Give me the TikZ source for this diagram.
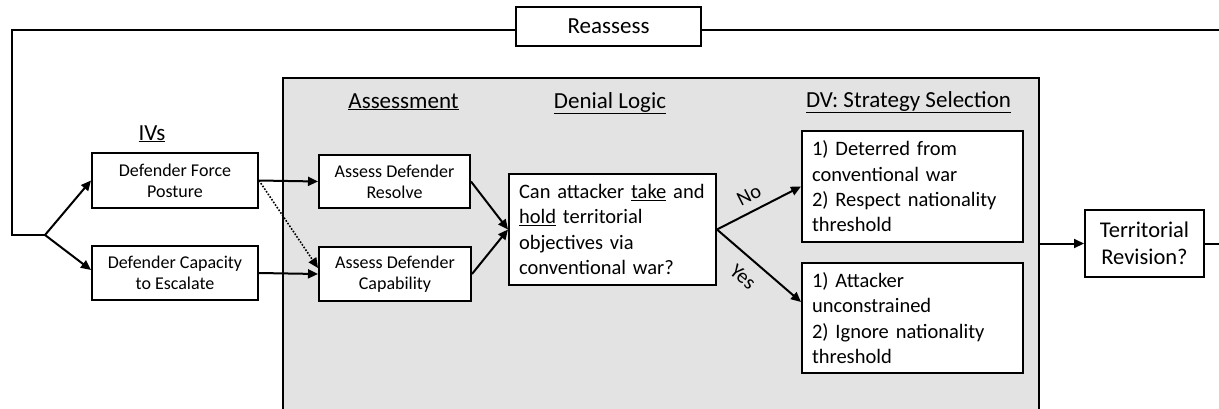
\documentclass[tikz,border=0pt]{standalone}
\usepackage{fontspec}
\setmainfont{Carlito}
\usetikzlibrary{arrows.meta}
\definecolor{panelgray}{HTML}{E3E3E3}
\begin{document}
\begin{tikzpicture}[x=1pt,y=-1pt,
  box/.style={draw=black, line width=2pt, fill=white, inner sep=0pt, align=center,
    font=\fontsize{18}{21}\selectfont},
  bigbox/.style={draw=black, line width=2pt, fill=white, inner xsep=10pt, inner ysep=0pt, align=left,
    font=\fontsize{20.5}{25.3}\selectfont},
  header/.style={inner sep=0pt, anchor=base, font=\fontsize{23}{27}\selectfont},
  lbl/.style={inner sep=0pt, font=\fontsize{20.5}{24}\selectfont},
  conn/.style={line width=2pt, -{Triangle[length=10pt,width=9pt]}},
  plain/.style={line width=2pt},
  dotconn/.style={line width=1.6pt, dash pattern=on 1.6pt off 1.6pt, -{Triangle[length=10pt,width=9pt]}}]
\clip (0,0) rectangle (1219,408);
\fill[white] (0,0) rectangle (1219,408);

% gray panel
\node[fill=panelgray, draw=black, line width=2pt, minimum width=756pt, minimum height=345pt, inner sep=0pt] (panel) at (661,250.5) {};

% coordinates of the loop
\coordinate (tl) at (12,30);
\coordinate (bl) at (12,235);
\coordinate (split) at (45,235);
\coordinate (redge) at (1225,30);
\coordinate (redge2) at (1225,243.5);

% headers
\node[header] (ivs) at (152,140) {\underline{IVs}};
\node[header] (hass) at (403.5,108) {\underline{Assessment}};
\node[header] (hden) at (610,108) {\underline{Denial Logic}};
\node[header] (hdv) at (908.5,107) {\underline{DV: Strategy Selection}};

% boxes
\node[box, minimum width=185pt, minimum height=39pt, font=\fontsize{23}{27}\selectfont] (reassess) at (608.5,26.5) {Reassess};
\node[box, minimum width=166pt, minimum height=55pt] (post) at (175,180.5) {Defender Force\\Posture};
\node[box, minimum width=166pt, minimum height=54pt] (cap) at (175,273) {Defender Capacity\\to Escalate};
\node[box, minimum width=151pt, minimum height=53pt] (res) at (394.5,181.5) {Assess Defender\\Resolve};
\node[box, minimum width=152pt, minimum height=54pt] (capab) at (395,274) {Assess Defender\\Capability};
\node[bigbox, text width=187pt, minimum height=111pt] (q) at (612.5,229.5)
  {Can attacker \underline{take} and\\\underline{hold} territorial\\objectives via\\conventional war?};
\node[bigbox, text width=201pt, minimum height=111pt] (no) at (912.5,186.5)
  {1) Deterred from\\conventional war\\2) Respect nationality\\threshold};
\node[bigbox, text width=201pt, minimum height=110pt] (yes) at (912.5,318)
  {1) Attacker\\unconstrained\\2) Ignore nationality\\threshold};
\node[box, minimum width=119pt, minimum height=67pt, font=\fontsize{22.5}{27}\selectfont] (tr) at (1144.5,243.5) {Territorial\\Revision?};

% loop
\draw[plain] (redge) -- (reassess.east |- redge);
\draw[plain] (reassess.west |- tl) -- (tl) -- (bl) -- (split);
\draw[conn] (split) -- (post.west);
\draw[conn] (split) -- ([yshift=3pt]cap.west);

% IV -> assessment
\draw[conn] (post.east) -- (res.west);
\draw[conn] (cap.east) -- (capab.west);
\draw[dotconn] (post.east) -- ([yshift=6pt]capab.west);

% assessment -> question
\draw[conn] (res.east) -- (q.west);
\draw[conn] (capab.east) -- (q.west);

% question -> outcomes
\draw[conn] (q.east) -- (no.west);
\draw[conn] (q.east) -- ([yshift=16pt]yes.west);
\node[lbl, rotate=27] (nolbl) at (749,195) {No};
\node[lbl, rotate=-40] (yeslbl) at (743,277) {Yes};

% panel -> territorial revision
\draw[conn] (panel.east |- tr) -- (tr.west);
\draw[plain] (tr.east) -- (redge2);
\end{tikzpicture}
\end{document}
